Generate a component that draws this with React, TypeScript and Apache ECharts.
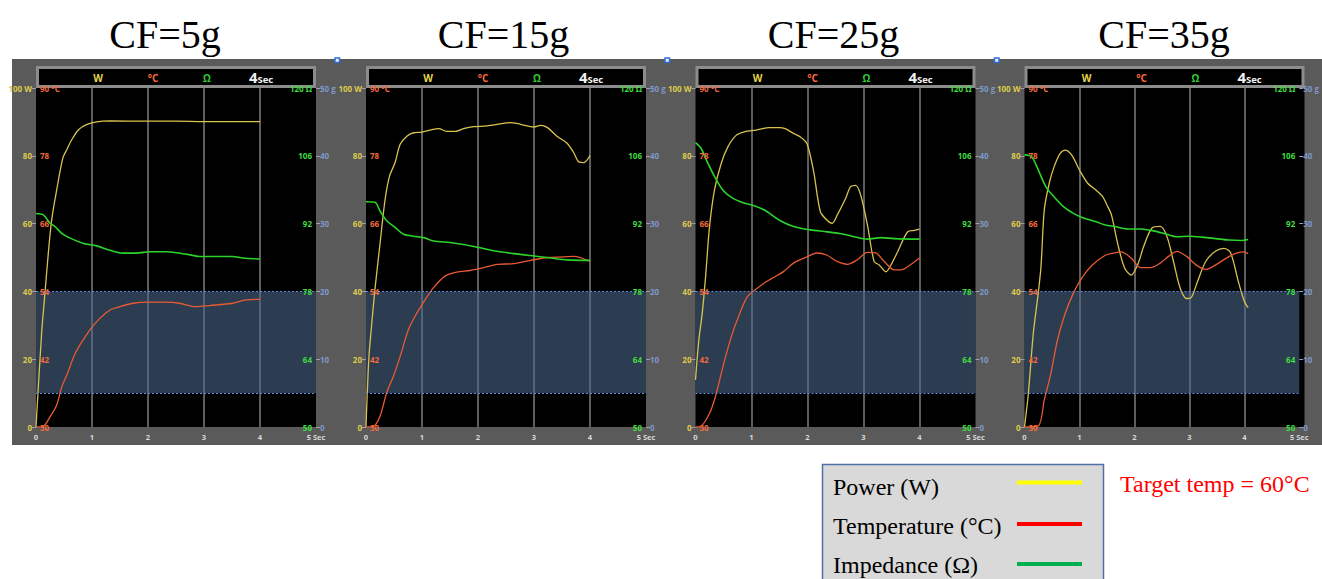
import React, { useEffect, useRef } from "react";
import * as echarts from "echarts";

// ---------- data ----------
const panelTitles = ["CF=5g", "CF=15g", "CF=25g", "CF=35g"];
const timeTicks = [0, 1, 2, 3, 4, 5];
const powerTicks = [0, 20, 40, 60, 80, 100];
const tempTicks = [30, 42, 54, 66, 78, 90];
const impTicks = [50, 64, 78, 92, 106, 120];
const gramTicks = [0, 10, 20, 30, 40, 50];
const bandLow = 10;
const bandHigh = 40;

// [time (s), power (W)]
const power5 = [[0,0],[0.1,27.6],[0.16,39.5],[0.22,51.3],[0.28,61.1],[0.37,70],[0.48,79.4],[0.55,81.8],[0.64,84.8],[0.76,87.7],[0.9,89.2],[1.08,90],[1.32,90.3],[2,90.2],[2.5,90.2],[3,90.1],[3.5,90.1],[4,90.1]];
const temp5 = [[0,30],[0.13,30.1],[0.25,31.8],[0.37,33.9],[0.46,37.1],[0.55,39.2],[0.7,43],[0.88,46],[1.08,48.6],[1.32,50.7],[1.5,51.3],[1.73,51.9],[2.0,52.1],[2.33,52.1],[2.56,51.9],[2.86,51.3],[3.1,51.5],[3.51,51.9],[3.75,52.5],[4.0,52.6]];
const imp5 = [[0,94.1],[0.13,93.8],[0.25,92.1],[0.34,91.4],[0.46,90],[0.61,89],[0.85,87.9],[1.08,87.4],[1.32,86.5],[1.55,85.9],[1.79,85.9],[2.03,86.2],[2.33,86.2],[2.68,85.7],[2.92,85.2],[3.51,85.2],[3.69,84.9],[4.0,84.7]];

const power15 = [[0,0],[0.05,20],[0.1,30],[0.16,40.6],[0.25,54],[0.34,67],[0.42,74],[0.52,78],[0.61,83.4],[0.73,85.8],[0.85,86.8],[1.0,87],[1.15,87.6],[1.3,88],[1.44,87.2],[1.6,87.2],[1.74,88],[1.92,88.6],[2.16,88.8],[2.4,89.4],[2.58,89.8],[2.76,89.3],[3.0,88.5],[3.12,89],[3.24,88.3],[3.41,85.8],[3.59,83.7],[3.71,80.9],[3.8,78.2],[3.89,78],[4.0,80.1]];
const temp15 = [[0,30],[0.13,30.1],[0.25,31.9],[0.37,36.1],[0.49,39],[0.61,42.5],[0.76,47.3],[0.91,50.2],[1.06,52.6],[1.21,54.7],[1.41,56.7],[1.62,57.4],[1.86,57.7],[2.1,58.2],[2.34,58.8],[2.64,58.9],[2.94,59.5],[3.24,60],[3.53,60.1],[3.71,60.2],[4.0,59.3]];
const imp15 = [[0,96.5],[0.16,96.4],[0.25,94.6],[0.37,92.6],[0.52,91.2],[0.67,89.8],[0.85,89.4],[1.03,89.1],[1.21,88.4],[1.5,88.1],[1.74,87.7],[2.04,87],[2.34,86.3],[2.64,85.8],[3.0,85.3],[3.3,84.9],[3.59,84.5],[4.0,84.4]];

const power25 = [[0,13.9],[0.06,25.7],[0.12,33.5],[0.18,44.3],[0.25,59],[0.34,70],[0.46,77.8],[0.58,82.7],[0.73,86.1],[0.88,87.1],[1.08,87.6],[1.32,88.3],[1.5,88.3],[1.6,88],[1.75,86.6],[1.87,85.6],[1.99,83.6],[2.11,75.3],[2.23,63.5],[2.35,61],[2.44,60.1],[2.53,62.5],[2.68,67.4],[2.77,70.9],[2.86,71.3],[2.95,68.4],[3.07,59.6],[3.19,48.8],[3.28,47.8],[3.4,45.8],[3.49,47.8],[3.61,51.7],[3.79,57.6],[3.91,58],[4.0,58.4]];
const temp25 = [[0,30],[0.07,30],[0.25,32.4],[0.37,35.9],[0.49,40.7],[0.64,46],[0.79,50.1],[0.93,53.1],[1.08,54.4],[1.26,55.7],[1.42,56.6],[1.57,57.5],[1.75,59],[1.99,60.1],[2.17,60.8],[2.35,60.4],[2.53,59.3],[2.71,58.8],[2.89,59.6],[3.07,60.9],[3.22,60.8],[3.37,59.3],[3.55,57.8],[3.67,57.8],[3.85,58.8],[4.0,59.9]];
const imp25 = [[0,108.7],[0.1,107.5],[0.22,104.5],[0.34,101.7],[0.49,98.9],[0.67,97.2],[0.85,96.3],[1.02,95.8],[1.23,94.8],[1.5,92.7],[1.75,91.4],[2.05,90.7],[2.35,90.3],[2.65,89.8],[2.83,89.3],[3.07,88.8],[3.31,89.1],[3.55,88.9],[4.0,88.8]];

const power35 = [[0,0],[0.07,9.9],[0.16,27.6],[0.25,39.5],[0.3,47.3],[0.36,64],[0.45,71.9],[0.54,76.8],[0.65,80.7],[0.74,81.7],[0.86,80.2],[1.0,75.8],[1.15,71.9],[1.3,69.9],[1.42,68],[1.5,65.5],[1.58,62.7],[1.7,53.8],[1.82,47],[1.94,44.8],[2.06,47.9],[2.17,53.3],[2.32,58.7],[2.47,59.2],[2.59,56.3],[2.71,48.9],[2.83,41.1],[2.95,37.9],[3.03,38.1],[3.15,43],[3.3,48.9],[3.48,51.9],[3.63,52.7],[3.75,51.4],[3.89,43],[4.0,37.1],[4.07,35.2]];
const temp35 = [[0,30],[0.25,30.2],[0.36,34.8],[0.48,39.5],[0.6,45.4],[0.74,50.1],[0.89,53.7],[1.06,56.6],[1.24,58.7],[1.47,60.4],[1.64,60.8],[1.76,61],[1.94,59.9],[2.12,58.2],[2.29,58.2],[2.47,59],[2.62,60.2],[2.77,61.1],[2.95,60.2],[3.12,58.7],[3.3,57.9],[3.48,58.7],[3.66,59.8],[3.83,60.7],[3.98,61],[4.07,60.7]];
const imp35 = [[0,106.2],[0.13,105.8],[0.25,103.1],[0.39,99.6],[0.54,97.5],[0.71,95.5],[0.89,94.1],[1.06,93.2],[1.3,92.4],[1.47,91.7],[1.64,91.4],[1.88,90.9],[2.12,90.9],[2.35,90.5],[2.59,89.8],[2.77,89.3],[3.0,89.4],[3.24,89.2],[3.48,88.9],[3.72,88.6],[3.95,88.5],[4.07,88.7]];

const powerSets = [power5, power15, power25, power35];
const tempSets = [temp5, temp15, temp25, temp35];
const impSets = [imp5, imp15, imp25, imp35];

const legendItems = ["Power (W)", "Temperature (°C)", "Impedance (Ω)"];
const targetNote = "Target temp = 60°C";

// ---------- layout / style ----------
const gridLefts = [36, 366, 695.5, 1024.5];
const gridW = 280;
const gridTop = 88;
const gridH = 339;
const titleX = [165, 503.5, 833.5, 1164];

const C_POWER = "#d9c24e";
const C_TEMP = "#e85a32";
const C_IMP = "#2ad42a";
const LBL_FONT = "'Open Sans', 'DejaVu Sans', sans-serif";
const SERIF = "'Liberation Serif', 'Times New Roman', serif";

function labelAxis(i: number, pos: string, inside: boolean, color: string, ticks: number[], unit: string, showTick: boolean) {
  return {
    gridIndex: i,
    type: "value",
    position: pos,
    z: 10,
    min: 0,
    max: 100,
    interval: 20,
    axisLine: { show: false },
    splitLine: { show: false },
    axisTick: { show: showTick, length: 4, lineStyle: { color: "#a0a0a0", width: 1 } },
    axisLabel: {
      inside,
      margin: 4,
      color,
      fontSize: 8,
      fontWeight: "bold",
      fontFamily: LBL_FONT,
      formatter: (v: number) => {
        const idx = Math.round(v / 20);
        return idx === 5 ? ticks[idx] + " " + unit : String(ticks[idx]);
      },
    },
  };
}

function buildOption() {
  const grids: any[] = [];
  const xAxes: any[] = [];
  const yAxes: any[] = [];
  const series: any[] = [];
  const graphics: any[] = [];

  graphics.push({ type: "rect", z: -10, shape: { x: 12, y: 59, width: 1310, height: 386 }, style: { fill: "#5a5a5a" } });

  for (let i = 0; i < 4; i++) {
    const left = gridLefts[i];
    grids.push({ left, top: gridTop, width: gridW, height: gridH, containLabel: false });
    xAxes.push({
      gridIndex: i,
      type: "value",
      min: 0,
      max: 5,
      interval: 1,
      axisLine: { show: false },
      axisTick: { show: false },
      splitLine: {
        show: true,
        showMinLine: false,
        showMaxLine: false,
        lineStyle: { color: "#7c7c7c", width: 1.5 },
      },
      axisLabel: {
        color: "#d8d8d8",
        fontSize: 7.5,
        fontWeight: "bold",
        fontFamily: LBL_FONT,
        margin: 6,
        formatter: (v: number) => (v === timeTicks[5] ? v + " Sec" : String(v)),
      },
    });
    yAxes.push(labelAxis(i, "left", false, "#dccb4c", powerTicks, "W", true));
    yAxes.push(labelAxis(i, "left", true, "#f26a3e", tempTicks, "°C", false));
    yAxes.push(labelAxis(i, "right", true, "#3fdc3f", impTicks, "Ω", false));
    yAxes.push(labelAxis(i, "right", false, "#7d98c8", gramTicks, "g", true));
    yAxes.push({ gridIndex: i, type: "value", min: tempTicks[0], max: tempTicks[5], show: false });
    yAxes.push({ gridIndex: i, type: "value", min: impTicks[0], max: impTicks[5], show: false });

    series.push({
      type: "line",
      xAxisIndex: i,
      yAxisIndex: i * 6,
      data: powerSets[i],
      smooth: 0.3,
      symbol: "none",
      lineStyle: { color: C_POWER, width: 1.3 },
      markArea: {
        silent: true,
        itemStyle: { color: "rgba(75,105,140,0.58)" },
        data: [[{ yAxis: bandLow }, { yAxis: bandHigh }]],
      },
      markLine: {
        silent: true,
        symbol: ["none", "none"],
        label: { show: false },
        lineStyle: { color: "#5f8ae0", type: [2, 2], width: 1 },
        data: [{ yAxis: bandLow }, { yAxis: bandHigh }],
      },
    });
    series.push({
      type: "line",
      xAxisIndex: i,
      yAxisIndex: i * 6 + 4,
      data: tempSets[i],
      smooth: 0.3,
      symbol: "none",
      lineStyle: { color: C_TEMP, width: 1.3 },
    });
    series.push({
      type: "line",
      xAxisIndex: i,
      yAxisIndex: i * 6 + 5,
      data: impSets[i],
      smooth: 0.3,
      symbol: "none",
      lineStyle: { color: C_IMP, width: 1.6 },
    });

    // black plot background
    graphics.push({ type: "rect", z: -9, shape: { x: left, y: gridTop, width: gridW, height: gridH }, style: { fill: "#000" } });
    // header bar
    graphics.push({
      type: "rect",
      z: 5,
      shape: { x: left + 1.5, y: 67.5, width: gridW - 3, height: 19 },
      style: { fill: "#000", stroke: "#8c8c8c", lineWidth: 3 },
    });
    const hdr = [
      { t: "W", dx: 62, c: "#e8d44a" },
      { t: "°C", dx: 117, c: "#ff6a3a" },
      { t: "Ω", dx: 171, c: "#2fd02f" },
    ];
    hdr.forEach((h) => {
      graphics.push({
        type: "text",
        z: 6,
        x: left + h.dx,
        y: 78,
        style: { text: h.t, fill: h.c, fontSize: 10, fontWeight: "bold", fontFamily: LBL_FONT, textAlign: "center", textVerticalAlign: "middle", verticalAlign: "middle" },
      });
    });
    graphics.push({
      type: "text",
      z: 6,
      x: left + 221.5,
      y: 77,
      style: { text: "4", fill: "#f2f2f2", fontSize: 15, fontWeight: "bold", fontFamily: LBL_FONT, textAlign: "right", textVerticalAlign: "middle", verticalAlign: "middle" },
    });
    graphics.push({
      type: "text",
      z: 6,
      x: left + 221.5,
      y: 79,
      style: { text: "Sec", fill: "#f2f2f2", fontSize: 9.5, fontWeight: "bold", fontFamily: LBL_FONT, textAlign: "left", textVerticalAlign: "middle", verticalAlign: "middle" },
    });
    // title
    graphics.push({
      type: "text",
      z: 6,
      x: titleX[i],
      y: 34,
      style: { text: panelTitles[i], fill: "#000", fontSize: 40, fontFamily: SERIF, textAlign: "center", textVerticalAlign: "middle", verticalAlign: "middle" },
    });
    // small marker
    if (i < 3) {
      graphics.push({
        type: "rect",
        z: 6,
        shape: { x: left + 299, y: 58, width: 4.5, height: 4.5 },
        style: { fill: "#e6eeff", stroke: "#2f6fd8", lineWidth: 1.5 },
      });
    }
  }

  // legend box
  graphics.push({
    type: "rect",
    z: 6,
    shape: { x: 822.5, y: 464.5, width: 281, height: 140 },
    style: { fill: "#d9d9d9", stroke: "#5070a8", lineWidth: 1.5 },
  });
  const legendColors = ["#ffff00", "#ff0000", "#00b050"];
  const legendTextY = [487, 526, 565];
  const legendLineY = [482.5, 524, 564];
  legendItems.forEach((txt, k) => {
    graphics.push({
      type: "text",
      z: 7,
      x: 833,
      y: legendTextY[k],
      style: { text: txt, fill: "#000", fontSize: 24, fontFamily: SERIF, textAlign: "left", textVerticalAlign: "middle", verticalAlign: "middle" },
    });
    graphics.push({
      type: "line",
      z: 7,
      shape: { x1: 1017, y1: legendLineY[k], x2: 1082, y2: legendLineY[k] },
      style: { stroke: legendColors[k], lineWidth: 4 },
    });
  });
  graphics.push({
    type: "text",
    z: 7,
    x: 1120,
    y: 483.5,
    style: { text: targetNote, fill: "#ff0000", fontSize: 24, fontFamily: SERIF, textAlign: "left", textVerticalAlign: "middle", verticalAlign: "middle" },
  });

  return {
    animation: false,
    backgroundColor: "#ffffff",
    grid: grids,
    xAxis: xAxes,
    yAxis: yAxes,
    series,
    graphic: { elements: graphics },
  };
}

export default function App() {
  const ref = useRef<HTMLDivElement | null>(null);
  useEffect(() => {
    if (!ref.current) return;
    const chart = echarts.init(ref.current, undefined, { renderer: "svg" });
    chart.setOption(buildOption() as any);
    return () => chart.dispose();
  }, []);
  return (
    <div
      ref={ref}
      style={{ position: "fixed", left: 0, top: 0, width: 1322, height: 579, background: "#fff" }}
    />
  );
}
